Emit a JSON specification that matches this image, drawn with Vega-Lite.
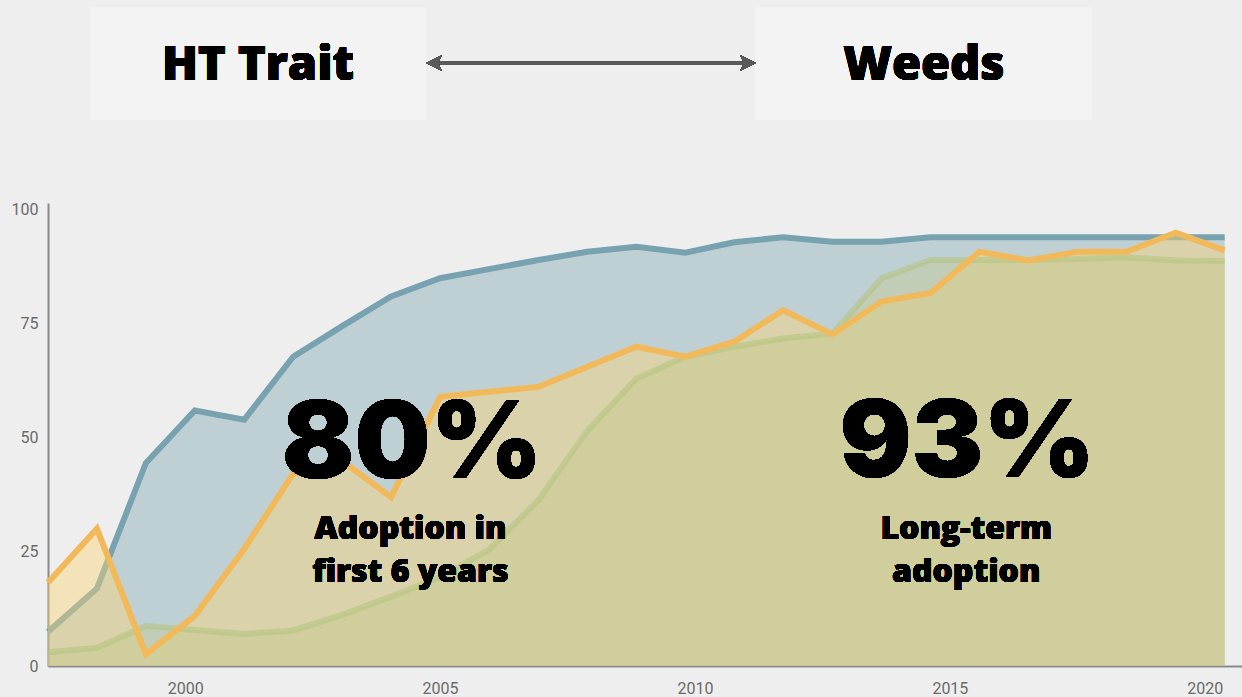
{
  "$schema": "https://vega.github.io/schema/vega-lite/v6.json",
  "autosize": {"type": "none"},
  "width": 1194,
  "height": 463,
  "padding": {"left": 48, "top": 203, "right": 0, "bottom": 31},
  "background": "#eeeeee",
  "config": {
    "view": {"stroke": null},
    "axis": {"domainColor": "#8a8a8a", "domainWidth": 2, "ticks": false, "grid": false, "labelColor": "#6a6a6a", "labelFont": "Roboto", "labelFontSize": 16, "title": null}
  },
  "data": {"values": [
    {"year": 1997.31, "soybeans": 7.5, "cotton": 18.3, "corn": 3.0},
    {"year": 1998.27, "soybeans": 17.0, "cotton": 30.1, "corn": 4.0},
    {"year": 1999.23, "soybeans": 44.5, "cotton": 2.6, "corn": 8.8},
    {"year": 2000.19, "soybeans": 56.0, "cotton": 11.0, "corn": 7.9},
    {"year": 2001.16, "soybeans": 54.0, "cotton": 25.7, "corn": 7.0},
    {"year": 2002.12, "soybeans": 67.8, "cotton": 42.2, "corn": 7.8},
    {"year": 2003.08, "soybeans": 74.5, "cotton": 45.0, "corn": 11.2},
    {"year": 2004.04, "soybeans": 81.0, "cotton": 37.0, "corn": 15.2},
    {"year": 2005.00, "soybeans": 85.0, "cotton": 59.0, "corn": 19.5},
    {"year": 2005.96, "soybeans": 87.0, "cotton": 60.1, "corn": 25.5},
    {"year": 2006.93, "soybeans": 89.0, "cotton": 61.2, "corn": 36.3},
    {"year": 2007.89, "soybeans": 90.8, "cotton": 65.6, "corn": 51.6},
    {"year": 2008.85, "soybeans": 91.9, "cotton": 70.0, "corn": 63.0},
    {"year": 2009.81, "soybeans": 90.6, "cotton": 67.8, "corn": 67.8},
    {"year": 2010.77, "soybeans": 92.9, "cotton": 71.1, "corn": 70.0},
    {"year": 2011.73, "soybeans": 94.0, "cotton": 78.0, "corn": 71.8},
    {"year": 2012.70, "soybeans": 93.0, "cotton": 72.7, "corn": 72.9},
    {"year": 2013.66, "soybeans": 93.0, "cotton": 79.9, "corn": 85.0},
    {"year": 2014.62, "soybeans": 94.0, "cotton": 81.8, "corn": 89.0},
    {"year": 2015.58, "soybeans": 94.0, "cotton": 90.8, "corn": 89.0},
    {"year": 2016.54, "soybeans": 94.0, "cotton": 88.9, "corn": 89.0},
    {"year": 2017.50, "soybeans": 94.0, "cotton": 90.8, "corn": 89.2},
    {"year": 2018.46, "soybeans": 94.0, "cotton": 90.8, "corn": 89.6},
    {"year": 2019.43, "soybeans": 94.0, "cotton": 95.0, "corn": 88.9},
    {"year": 2020.39, "soybeans": 94.0, "cotton": 91.1, "corn": 88.8}
  ]},
  "layer": [
    {
      "mark": {"type": "area", "color": "#78a2b0", "opacity": 0.4},
      "encoding": {
        "x": {"field": "year", "type": "quantitative", "scale": {"domain": [1997.31, 2020.73], "nice": false, "zero": false},
              "axis": {"values": [2000, 2005, 2010, 2015, 2020], "format": "d", "labelPadding": 14}},
        "y": {"field": "soybeans", "type": "quantitative", "scale": {"domain": [0, 101.5], "nice": false},
              "axis": {"values": [0, 25, 50, 75, 100], "labelPadding": 10}}
      }
    },
    {
      "mark": {"type": "line", "color": "#78a2b0", "strokeWidth": 6},
      "encoding": {
        "x": {"field": "year", "type": "quantitative"},
        "y": {"field": "soybeans", "type": "quantitative"}
      }
    },
    {
      "mark": {"type": "area", "color": "#fdd470", "opacity": 0.42},
      "encoding": {
        "x": {"field": "year", "type": "quantitative"},
        "y": {"field": "cotton", "type": "quantitative"}
      }
    },
    {
      "mark": {"type": "area", "color": "#c5c88a", "opacity": 0.4},
      "encoding": {
        "x": {"field": "year", "type": "quantitative"},
        "y": {"field": "corn", "type": "quantitative"}
      }
    },
    {
      "mark": {"type": "line", "color": "#b2c27c", "strokeWidth": 6, "opacity": 0.55},
      "encoding": {
        "x": {"field": "year", "type": "quantitative"},
        "y": {"field": "corn", "type": "quantitative"}
      }
    },
    {
      "mark": {"type": "line", "color": "#f2b95a", "strokeWidth": 6},
      "encoding": {
        "x": {"field": "year", "type": "quantitative"},
        "y": {"field": "cotton", "type": "quantitative"}
      }
    },
    {
      "mark": {"type": "rect", "color": "#f3f3f3"},
      "encoding": {
        "x": {"datum": 1998.13, "type": "quantitative"},
        "x2": {"datum": 2004.72},
        "y": {"datum": 144.3, "type": "quantitative"},
        "y2": {"datum": 119.7}
      }
    },
    {
      "mark": {"type": "rect", "color": "#f3f3f3"},
      "encoding": {
        "x": {"datum": 2011.18, "type": "quantitative"},
        "x2": {"datum": 2017.79},
        "y": {"datum": 144.3, "type": "quantitative"},
        "y2": {"datum": 119.7}
      }
    },
    {
      "mark": {"type": "rule", "color": "#5a5a5a", "strokeWidth": 2.5},
      "encoding": {
        "x": {"datum": 2004.80, "type": "quantitative"},
        "x2": {"datum": 2011.10},
        "y": {"datum": 132.2, "type": "quantitative"}
      }
    },
    {
      "mark": {"type": "point", "filled": true, "color": "#5a5a5a", "opacity": 1, "size": 240, "shape": "M-1,0L1,-1L0.55,0L1,1Z"},
      "encoding": {
        "x": {"datum": 2004.88, "type": "quantitative"},
        "y": {"datum": 132.2, "type": "quantitative"}
      }
    },
    {
      "mark": {"type": "point", "filled": true, "color": "#5a5a5a", "opacity": 1, "size": 240, "shape": "M1,0L-1,-1L-0.55,0L-1,1Z"},
      "encoding": {
        "x": {"datum": 2011.04, "type": "quantitative"},
        "y": {"datum": 132.2, "type": "quantitative"}
      }
    },
    {
      "mark": {"type": "text", "text": "HT Trait", "font": "Open Sans", "fontWeight": 800, "fontSize": 47, "letterSpacing": 1.2, "color": "#000000", "align": "center", "baseline": "alphabetic"},
      "encoding": {
        "x": {"datum": 2001.43, "type": "quantitative"},
        "y": {"datum": 128.5, "type": "quantitative"}
      }
    },
    {
      "mark": {"type": "text", "text": "Weeds", "font": "Open Sans", "fontWeight": 800, "fontSize": 47, "letterSpacing": 1.2, "color": "#000000", "align": "center", "baseline": "alphabetic"},
      "encoding": {
        "x": {"datum": 2014.49, "type": "quantitative"},
        "y": {"datum": 128.5, "type": "quantitative"}
      }
    },
    {
      "mark": {"type": "text", "text": "80%", "font": "Inter", "fontWeight": 900, "fontSize": 107, "color": "#000000", "align": "center", "baseline": "alphabetic"},
      "encoding": {
        "x": {"datum": 2004.45, "type": "quantitative"},
        "y": {"datum": 41.2, "type": "quantitative"}
      }
    },
    {
      "mark": {"type": "text", "text": ["Adoption in", "first 6 years"], "lineHeight": 43, "font": "Open Sans", "fontWeight": 800, "fontSize": 32, "letterSpacing": 0.9, "color": "#000000", "align": "center", "baseline": "alphabetic"},
      "encoding": {
        "x": {"datum": 2004.42, "type": "quantitative"},
        "y": {"datum": 27.8, "type": "quantitative"}
      }
    },
    {
      "mark": {"type": "text", "text": "93%", "font": "Inter", "fontWeight": 900, "fontSize": 107, "color": "#000000", "align": "center", "baseline": "alphabetic"},
      "encoding": {
        "x": {"datum": 2015.34, "type": "quantitative"},
        "y": {"datum": 41.4, "type": "quantitative"}
      }
    },
    {
      "mark": {"type": "text", "text": ["Long-term", "adoption"], "lineHeight": 43, "font": "Open Sans", "fontWeight": 800, "fontSize": 32, "letterSpacing": 0.9, "color": "#000000", "align": "center", "baseline": "alphabetic"},
      "encoding": {
        "x": {"datum": 2015.32, "type": "quantitative"},
        "y": {"datum": 27.8, "type": "quantitative"}
      }
    }
  ]
}
